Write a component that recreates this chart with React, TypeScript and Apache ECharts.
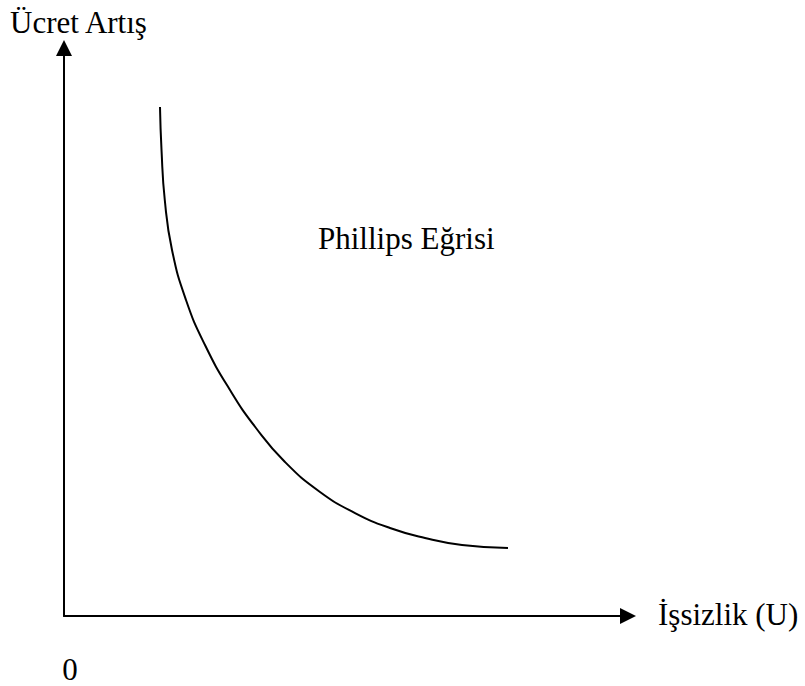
import React, { useEffect, useRef } from "react";
import * as echarts from "echarts";

const curveX = [1.702, 1.729, 1.787, 1.915, 2.163, 2.5, 2.943, 3.404, 3.918, 4.539, 5.16, 5.78, 6.401, 7.057, 7.872];
const curveY = [8.961, 8.204, 7.324, 6.444, 5.563, 4.771, 3.979, 3.31, 2.711, 2.183, 1.813, 1.549, 1.373, 1.25, 1.197];
const yAxisTitle = "Ücret Artış";
const xAxisTitle = "İşsizlik (U)";
const curveLabel = "Phillips Eğrisi";
const originLabel = "0";

const FONT = "'Liberation Serif', 'Times New Roman', 'DejaVu Serif', serif";

export default function App() {
  const ref = useRef<HTMLDivElement>(null);
  useEffect(() => {
    if (!ref.current) return;
    const chart = echarts.init(ref.current, undefined, { renderer: "svg" });
    const axisCommon = {
      type: "value" as const,
      min: 0,
      max: 10,
      axisLine: {
        show: true,
        symbol: ["none", "triangle"],
        symbolSize: [16, 16],
        lineStyle: { color: "#000", width: 2 },
      },
      axisTick: { show: false },
      axisLabel: { show: false },
      splitLine: { show: false },
    };
    const textEl = (t: string, x: number, y: number, align: string) => ({
      type: "text",
      x,
      y,
      style: {
        text: t,
        fill: "#000",
        fontFamily: FONT,
        fontSize: 31,
        fontWeight: "normal",
        align,
        verticalAlign: "middle",
      },
    });
    chart.setOption({
      animation: false,
      backgroundColor: "#fff",
      grid: { left: 64, top: 48, right: 177, bottom: 70 },
      xAxis: axisCommon,
      yAxis: axisCommon,
      series: [
        {
          type: "line",
          data: curveX.map((x, i) => [x, curveY[i]]),
          smooth: 0.5,
          symbol: "none",
          lineStyle: { color: "#000", width: 2 },
        },
      ],
      graphic: [
        textEl(yAxisTitle, 10, 22.5, "left"),
        textEl(xAxisTitle, 658, 614.5, "left"),
        textEl(curveLabel, 318, 238.5, "left"),
        textEl(originLabel, 70, 669.5, "center"),
      ],
    });
    return () => chart.dispose();
  }, []);
  return (
    <div
      ref={ref}
      style={{ position: "fixed", left: 0, top: 0, width: 805, height: 686 }}
    />
  );
}
